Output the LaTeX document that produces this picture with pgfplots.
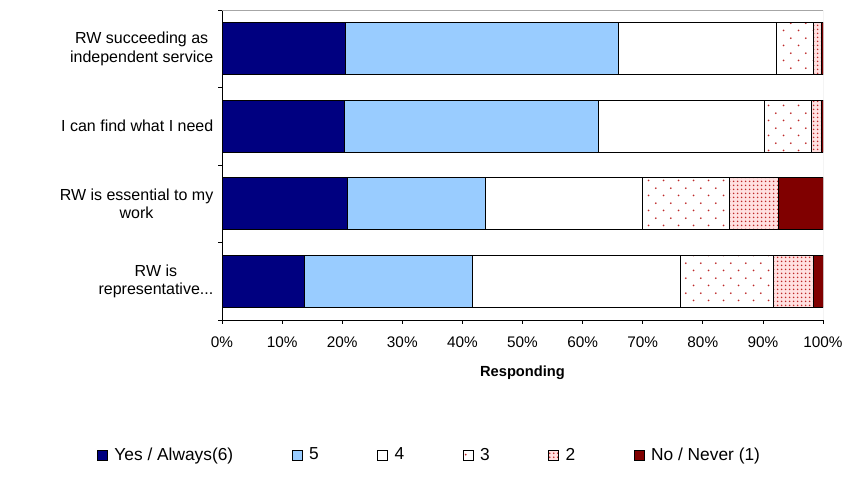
\documentclass[border=0pt]{standalone}
\usepackage{fontspec}
\setmainfont{Liberation Sans}
\usepackage{pgfplots}
\pgfplotsset{compat=1.18}
\usetikzlibrary{patterns}
\definecolor{navyb}{RGB}{0,0,128}
\definecolor{lightb}{RGB}{153,204,255}
\definecolor{darkr}{RGB}{128,0,0}
\definecolor{dotr}{RGB}{190,40,40}
\pgfdeclarepatternformonly{sparsedots}{\pgfqpoint{0pt}{0pt}}{\pgfqpoint{11pt}{11pt}}{\pgfqpoint{11pt}{11pt}}{%
  \pgfpathcircle{\pgfqpoint{2.75pt}{2.75pt}}{0.75pt}%
  \pgfpathcircle{\pgfqpoint{8.25pt}{8.25pt}}{0.75pt}%
  \pgfusepath{fill}}
\pgfdeclarepatternformonly{densedots}{\pgfqpoint{0pt}{0pt}}{\pgfqpoint{3pt}{3pt}}{\pgfqpoint{3pt}{3pt}}{%
  \pgfpathcircle{\pgfqpoint{1.5pt}{1.5pt}}{0.75pt}%
  \pgfusepath{fill}}
\begin{document}
\begin{tikzpicture}
\path[use as bounding box] (0,0) rectangle (636pt,371.25pt);
\begin{axis}[
  at={(166.5pt,131.25pt)}, anchor=south west,
  scale only axis, width=450.75pt, height=232.5pt,
  xbar stacked, bar width=39pt,
  xmin=0, xmax=100, ymin=-0.5, ymax=3.5,
  axis x line*=bottom, axis y line*=left,
  axis line style={black, line width=0.6pt},
  tick align=outside, major tick length=3pt,
  tick style={black, line width=0.6pt},
  xtick={0,10,...,100},
  xticklabel={\pgfmathprintnumber{\tick}\%},
  xticklabel style={font=\fontsize{11.5}{14}\selectfont, yshift=-6pt},
  ytick={-0.5,0.5,1.5,2.5,3.5}, yticklabels={},
  extra y ticks={0,1,2,3},
  extra y tick labels={{RW is\\representative{.}{.}{.}},{RW is essential to my\\work},{I can find what I need},{RW succeeding as\\independent service}},
  extra y tick style={major tick length=0pt, yticklabel style={align=center, font=\fontsize{12}{14}\selectfont, xshift=-3pt}},
  /pgf/number format/assume math mode=true,
  xlabel={\textbf{Responding}},
  xlabel style={font=\fontsize{11}{13}\selectfont, yshift=-7pt},
  legend columns=6,
  legend style={draw=none, at={(0.346,-0.4355)}, anchor=center, font=\fontsize{13}{15}\selectfont,
    /tikz/every odd column/.append style={column sep=3pt},
    /tikz/every even column/.append style={column sep=42pt}},
  legend image code/.code={\draw[#1,draw=black,line width=0.4pt] (0pt,-3.75pt) rectangle (7.5pt,3.75pt);},
  every axis plot/.append style={draw=black, line width=0.6pt},
]
\addplot[fill=navyb] coordinates {(13.7,0) (20.8,1) (20.3,2) (20.6,3)};
\addlegendentry{Yes / Always(6)}
\addplot[fill=lightb] coordinates {(27.9,0) (23.1,1) (42.4,2) (45.4,3)};
\addlegendentry{5}
\addplot[fill=white] coordinates {(34.6,0) (26.0,1) (27.6,2) (26.3,3)};
\addlegendentry{4}
\addplot[fill=white, postaction={pattern=sparsedots, pattern color=dotr}] coordinates {(15.5,0) (14.5,1) (7.8,2) (6.1,3)};
\addlegendentry{3}
\addplot[fill=red!12, postaction={pattern=densedots, pattern color=dotr}] coordinates {(6.7,0) (8.2,1) (1.6,2) (1.3,3)};
\addlegendentry{2}
\addplot[fill=darkr] coordinates {(1.6,0) (7.4,1) (0.3,2) (0.3,3)};
\addlegendentry{No / Never (1)}
\draw[gray!70, line width=0.6pt] (axis description cs:0,1) -- (axis description cs:1,1) -- (axis description cs:1,0);
\end{axis}
\end{tikzpicture}
\end{document}
